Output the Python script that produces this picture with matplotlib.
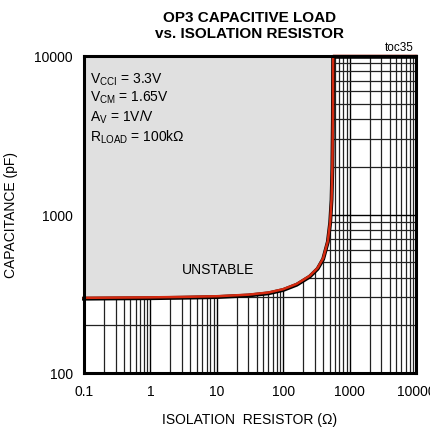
import matplotlib
matplotlib.use('Agg')
import matplotlib.pyplot as plt
import matplotlib.patheffects as pe
from matplotlib.ticker import LogLocator, FixedLocator, FixedFormatter, NullFormatter

plt.rcParams['font.family'] = ['Liberation Sans', 'DejaVu Sans']
plt.rcParams['mathtext.default'] = 'regular'

# boundary between stable and unstable region
r_iso = [0.1, 0.3, 1, 3, 10, 30, 60, 100, 160, 250, 330, 400, 470, 510, 535, 550, 560, 565, 10000]
c_load = [298, 299, 300, 302, 305, 312, 322, 338, 365, 410, 460, 530, 680, 900, 1250, 2000, 4000, 10000, 10000]

x_ticks = [0.1, 1, 10, 100, 1000, 10000]
x_labels = ['0.1', '1', '10', '100', '1000', '10000']
y_ticks = [100, 1000, 10000]
y_labels = ['100', '1000', '10000']

fig = plt.figure(figsize=(4.31, 4.35), dpi=100)
ax = fig.add_axes([84 / 431, 1 - 374 / 435, 332 / 431, 317 / 435])
ax.set_xscale('log')
ax.set_yscale('log')
ax.set_xlim(0.1, 10000)
ax.set_ylim(100, 10000)

ax.xaxis.set_major_locator(FixedLocator(x_ticks))
ax.xaxis.set_major_formatter(FixedFormatter(x_labels))
ax.yaxis.set_major_locator(FixedLocator(y_ticks))
ax.yaxis.set_major_formatter(FixedFormatter(y_labels))
ax.xaxis.set_minor_locator(LogLocator(base=10, subs=range(2, 10), numticks=20))
ax.yaxis.set_minor_locator(LogLocator(base=10, subs=range(2, 10), numticks=20))
ax.xaxis.set_minor_formatter(NullFormatter())
ax.yaxis.set_minor_formatter(NullFormatter())
ax.tick_params(which='both', length=0, labelsize=10, pad=8)

ax.set_axisbelow(True)
ax.grid(which='major', color='black', linewidth=1.0)
ax.grid(which='minor', color='#222222', linewidth=0.9)

ax.fill_between(r_iso, c_load, 10000, color='#e0e0e0', zorder=1, linewidth=0)
ax.plot(r_iso, c_load, color='#d42a10', linewidth=1.8, zorder=3,
        path_effects=[pe.Stroke(linewidth=2.8, foreground='black', offset=(0, -0.6)), pe.Normal()],
        clip_on=False)

for s in ax.spines.values():
    s.set_linewidth(2.2)
    s.set_zorder(4)

ax.text(0.018, 0.955, 'V$_{CCI}$ = 3.3V\nV$_{CM}$ = 1.65V\nA$_{V}$ = 1V/V\nR$_{LOAD}$ = 100k\u03a9',
        transform=ax.transAxes, fontsize=10, va='top', ha='left', linespacing=1.2, zorder=5)
ax.text(10.4, 453, 'UNSTABLE', fontsize=10, ha='center', va='center', zorder=5)

ax.set_xlabel('ISOLATION  RESISTOR (\u03a9)', fontsize=10, labelpad=10)
ax.set_ylabel('CAPACITANCE (pF)', fontsize=10, labelpad=12)
fig.text(250 / 431, 1 - 26 / 435, 'OP3 CAPACITIVE LOAD\nvs. ISOLATION RESISTOR', ha='center', va='center',
         fontsize=11, fontweight='bold', linespacing=1.15)
fig.text(414 / 431, 1 - 48 / 435, 'toc35', ha='right', va='center', fontsize=8.5)

fig.savefig('out.png', dpi=100)
